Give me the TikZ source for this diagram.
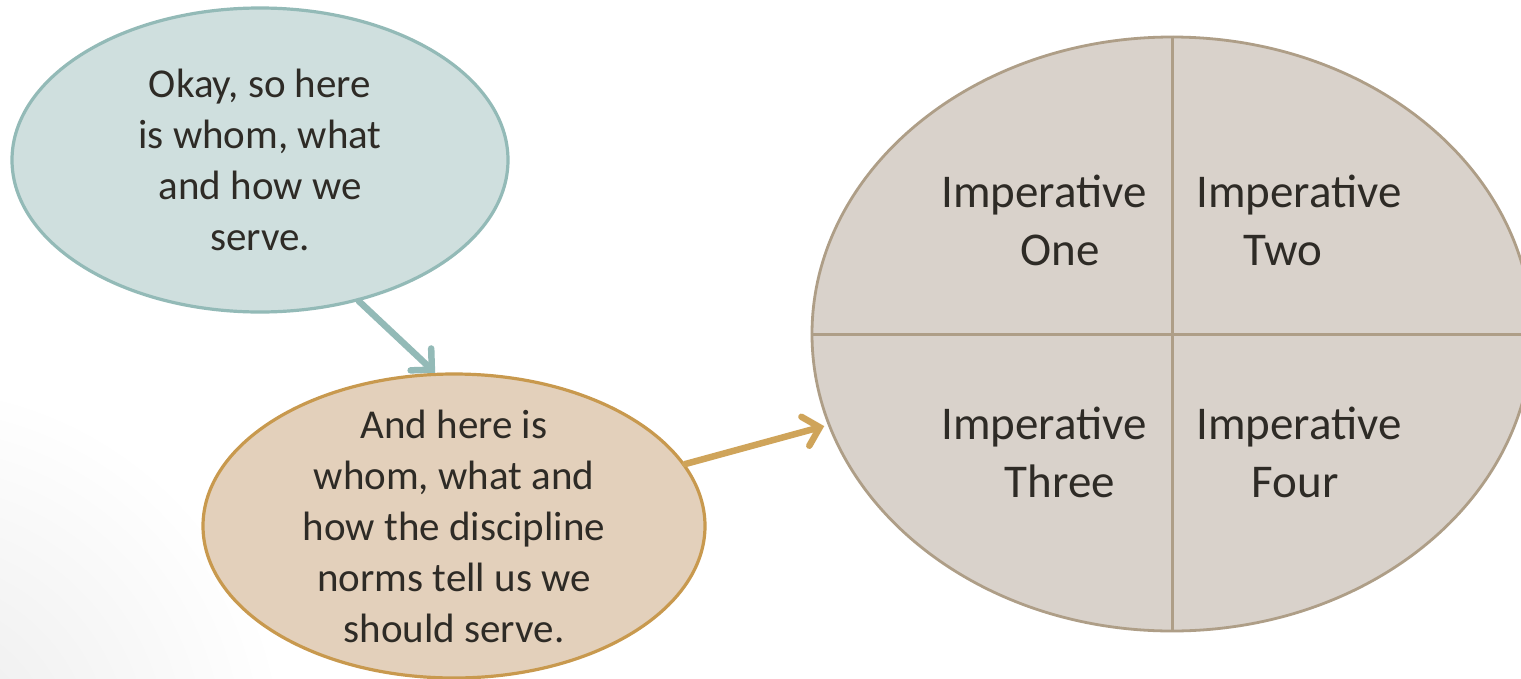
\documentclass[tikz,border=0pt]{standalone}
\usepackage{fontspec}
\setmainfont{Carlito}
\usetikzlibrary{arrows.meta,shapes.geometric}
\definecolor{tealfill}{HTML}{CFDFDE}
\definecolor{tealline}{HTML}{93BAB7}
\definecolor{tanfill}{HTML}{E3D0BB}
\definecolor{tanline}{HTML}{C8994E}
\definecolor{tanarrow}{HTML}{CFA45A}
\definecolor{greyfill}{HTML}{D9D2CB}
\definecolor{greyline}{HTML}{AE9E87}
\definecolor{inktext}{HTML}{2E2B26}
\tikzset{
  bubble/.style={ellipse, inner sep=0pt, align=center, text=inktext,
    font=\fontsize{41}{51}\selectfont},
  quadtext/.style={align=center, text=inktext, inner sep=0pt,
    font=\fontsize{47}{58}\selectfont},
  link/.style={line width=6.5pt, line cap=round,
    -{Straight Barb[length=15pt, width=30pt, line width=6.5pt, line cap=round]}},
}
\begin{document}
\begin{tikzpicture}[x=1pt, y=-1pt]
\useasboundingbox (0,0) rectangle (1521,678);
\clip (0,0) rectangle (1521,678);
\fill[white] (0,0) rectangle (1521,678);
% faint grey wash in the lower left corner
\shade[inner color=black!8, outer color=white] (-90,760) circle (380);

% the four imperatives
\node[ellipse, draw=greyline, fill=greyfill, line width=2.8pt,
  minimum width=720pt, minimum height=594pt, inner sep=0pt] (big) at (1172,334) {};
\draw[greyline, line width=3pt] (big.north) -- (big.south);
\draw[greyline, line width=3pt] (big.west) -- (big.east);
\node[quadtext] (q1) at (1044,220) {Imperative\\\hspace*{32pt}One};
\node[quadtext] (q2) at (1299,220) {Imperative\\Two\hspace*{32pt}};
\node[quadtext] (q3) at (1044,452) {Imperative\\\hspace*{32pt}Three};
\node[quadtext] (q4) at (1299,452) {Imperative\\Four\hspace*{8pt}};

% speech bubbles
\node[bubble, draw=tealline, fill=tealfill, line width=3.2pt,
  minimum width=496pt, minimum height=304pt] (serve) at (260,160)
  {Okay, so here\\is whom, what\\and how we\\serve.};
\node[bubble, draw=tanline, fill=tanfill, line width=3.2pt, inner ysep=-22pt,
  minimum width=502pt, minimum height=304pt] (norms) at (454,526)
  {And here is\\whom, what and\\how the discipline\\norms tell us we\\should serve.};

% connectors
\draw[link, tealline] (serve.-55) -- (norms.97);
\draw[link, tanarrow] (norms.15) -- ([xshift=-4pt]big.195);
\end{tikzpicture}
\end{document}
